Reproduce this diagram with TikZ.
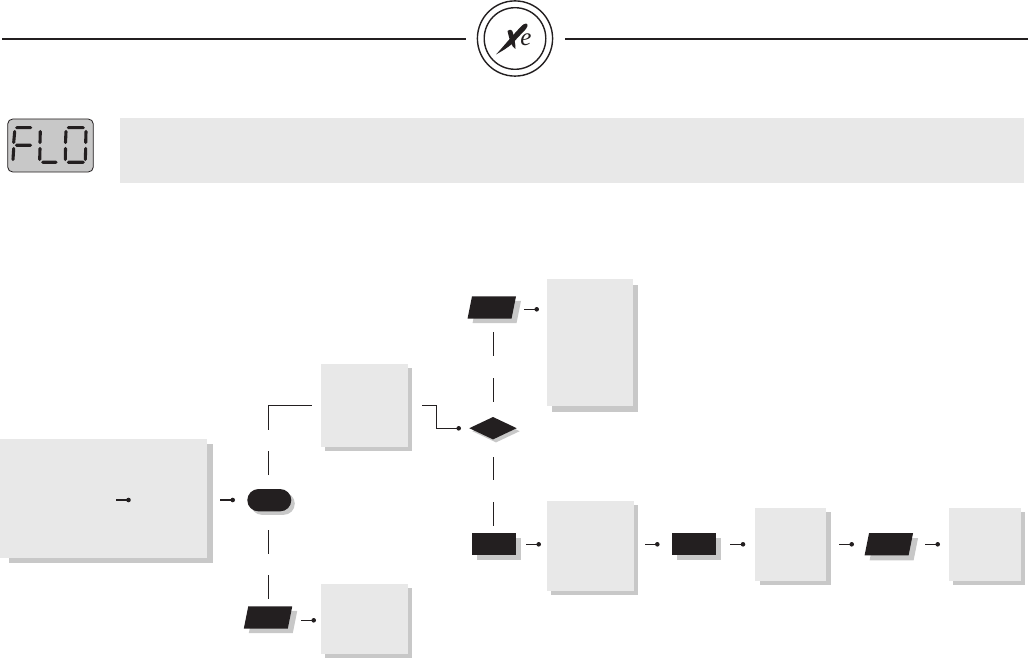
\documentclass[tikz,border=0pt]{standalone}
\usepackage{fontspec}
\setmainfont{Liberation Serif}
\usetikzlibrary{shapes.geometric,shapes.misc,shadows}
\definecolor{ink}{HTML}{231F20}
\definecolor{panel}{HTML}{E8E8E8}
\definecolor{shadowgray}{HTML}{C8C8C8}
\tikzset{
  shadowed/.style 2 args={drop shadow={shadow xshift=#1pt,shadow yshift=-#2pt,fill=shadowgray,opacity=1}},
  panelbox/.style={fill=panel,draw=none,inner sep=0pt,outer sep=0pt},
  darkbox/.style={fill=ink,draw=none,inner sep=0pt,outer sep=0pt,minimum width=44pt,minimum height=22.3pt},
  darkpara/.style={darkbox,xslant=0.2,transform shape},
  link/.style={draw=ink,line width=1.1pt},
  dotend/.style={circle,fill=ink,draw=none,inner sep=0pt,minimum size=4.6pt},
  segment/.style={draw=ink,line width=3.1pt,line cap=round},
}
\begin{document}
\begin{tikzpicture}[x=1pt,y=-1pt]
\useasboundingbox (0,0) rectangle (1028,658);
% header
\coordinate (ruleLa) at (2,39);
\coordinate (ruleLb) at (466,39);
\coordinate (ruleRa) at (565,39);
\coordinate (ruleRb) at (1028,39);
\draw[draw=ink,line width=2pt] (ruleLa) -- (ruleLb);
\draw[draw=ink,line width=2pt] (ruleRa) -- (ruleRb);
\draw[draw=ink,line width=1.4pt] (515,38.5) circle (37.6);
\draw[draw=ink,line width=1.4pt] (515,38.5) circle (30.8);
% logo
\fill[ink] (496,54.5) .. controls (503,47) and (511,37) .. (521.5,26) .. controls (524.5,23) and (528,22.5) .. (527.5,26) .. controls (527,29) and (521,33.5) .. (513,43) .. controls (507,48.5) and (501,51.5) .. (496,54.5) -- cycle;
\fill[ink] (507.5,31) .. controls (510,29) and (512.5,29.5) .. (513,33) .. controls (514,38) and (515.5,43) .. (515.5,49) .. controls (512,48) and (509,38) .. (507.5,31) -- cycle;
\node[text=ink,font=\itshape\fontsize{25}{25}\selectfont,inner sep=0pt] (logoe) at (526,39.5) {e};
% display
\draw[draw=ink,fill=shadowgray,line width=.8pt,rounded corners=5pt] (7.7,119) rectangle (93.3,172);
\draw[segment] (16.7,127.7) -- (30.7,127.7) (14.7,131.5) -- (13.7,142.5) (16.5,145.3) -- (30.5,145.3) (13.7,148.5) -- (13,159.5);
\draw[segment] (40.3,131.5) -- (40,142.5) (40,148.5) -- (39.7,159.5) (42.7,162.3) -- (56,162.3);
\draw[segment] (68.3,127.7) -- (83.3,127.7) (66,131.5) -- (65.5,142.5) (65.5,148.5) -- (65.3,159.5)
  (86,131.5) -- (85.7,142.5) (85.7,148.5) -- (85.3,159.5) (68.3,162.3) -- (83.3,162.3);
% banner
\fill[panel] (120,118) rectangle (1024,183);
% panels
\fill[shadowgray] (9,444) rectangle (213,563);
\node[panelbox,minimum width=207pt,minimum height=118.7pt] (boxA) at (103.5,498.3) {};
\node[panelbox,shadowed={4}{4},minimum width=87pt,minimum height=83pt] (boxB) at (364.5,405.5) {};
\node[panelbox,shadowed={4}{4},minimum width=87pt,minimum height=70pt] (boxC) at (364.5,619) {};
\node[panelbox,shadowed={5}{6},minimum width=86pt,minimum height=127pt] (boxD) at (590,342.5) {};
\node[panelbox,shadowed={4}{3.5},minimum width=87pt,minimum height=90pt] (boxE) at (590.5,546) {};
\node[panelbox,shadowed={5}{4},minimum width=71pt,minimum height=72.7pt] (boxF) at (790.5,544.3) {};
\node[panelbox,shadowed={4}{4},minimum width=72pt,minimum height=72.7pt] (boxG) at (985,544.3) {};
% dark shapes
\node[darkbox,rounded rectangle,shadowed={3.5}{3.5}] (pill) at (269.3,500.2) {};
\node[darkpara,shadowed={5}{4.5}] (paraC) at (268,617.5) {};
\node[darkpara,shadowed={5}{4.5}] (paraT) at (491.8,307.4) {};
\node[diamond,fill=ink,draw=none,inner sep=0pt,outer sep=0pt,minimum width=47.4pt,minimum height=22.4pt,aspect=2.1,shadowed={3}{3}] (dia) at (493,428.2) {};
\node[darkbox,shadowed={5}{5}] (rectA) at (494,544) {};
\node[darkbox,shadowed={5}{5}] (rectB) at (694,544) {};
\node[darkpara,shadowed={5}{5}] (paraR) at (888.8,544.2) {};
% connector ends
\foreach \n/\x/\y in {a/116/500,b/128.5/500,c/220/500,d/232.7/500,
  e/268.3/475,f/268.3/451,g/268.3/429.7,h/268.3/405.3,i/312/405.3,
  j/422/405.3,k/436.7/405.3,l/436.7/428.3,m/458.7/428.3,
  n/268.3/530,o/268.3/553.7,p/268.3/575,q/268.3/598.7,
  r/301.3/620.3,s/313.7/620.3,t/524/309.3,u/536.7/309.3,
  v/493.3/332,w/493.3/355.7,x/493.3/378.3,y/493.3/401.7,
  z/493.3/457,aa/493.3/480,ab/493.3/502,ac/493.3/525.7,
  ad/526/544.3,ae/538.7/544.3,af/645/544.3,ag/657.3/544.3,
  ah/730/544.3,ai/743/544.3,aj/839/544.3,ak/851.7/544.3,
  al/925/544.3,am/937.7/544.3}
  {\coordinate (pt\n) at (\x,\y);}
\foreach \from/\to in {a/b,c/d,m/m,r/s,t/u,ad/ae,af/ag,ah/ai,aj/ak,al/am}
  {\draw[link] (pt\from) -- (pt\to) node[dotend] (dot\to) {};}
\draw[link] (pte) -- (ptf);
\draw[link] (ptg) -- (pth) -- (pti);
\draw[link] (ptj) -- (ptk) -- (ptl) -- (ptm);
\draw[link] (ptn) -- (pto);
\draw[link] (ptp) -- (ptq);
\draw[link] (ptv) -- (ptw);
\draw[link] (ptx) -- (pty);
\draw[link] (ptz) -- (ptaa);
\draw[link] (ptab) -- (ptac);
\end{tikzpicture}
\end{document}
